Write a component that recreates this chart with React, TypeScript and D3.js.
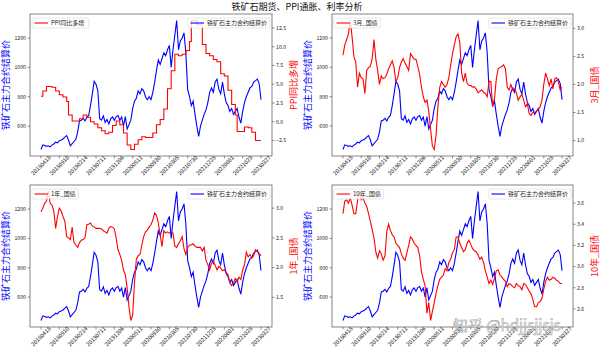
import React from 'react';
import * as d3 from 'd3';

const STEP = 10; // trading days between samples
const TICK_EVERY = 100; // trading days between x ticks
const xTickLabels = ['20180418', '20180910', '20190214', '20190711', '20191206', '20200511', '20200930', '20210305', '20210730', '20211228', '20220601', '20221028', '20230327'];

const ironOre = [440, 472, 468, 462, 466, 458, 470, 478, 490, 486,
  500, 505, 512, 525, 535, 505, 465, 480, 495, 510,
  560, 635, 640, 652, 635, 660, 672, 740, 820, 905,
  885, 840, 650, 640, 670, 625, 645, 615, 650, 662,
  640, 665, 672, 640, 662, 600, 665, 580, 610, 640,
  720, 770, 790, 840, 820, 855, 840, 800, 780, 800,
  780, 830, 900, 980, 1050, 1020, 1060, 1100, 1080, 1120,
  1150, 1000, 1120, 1220, 1320, 1120, 1180, 1200, 1235, 1100,
  850, 800, 740, 770, 680, 600, 530, 600, 640, 680,
  710, 760, 830, 860, 830, 900, 920, 850, 820, 900,
  820, 760, 740, 700, 720, 680, 700, 720, 660, 620,
  700, 760, 800, 830, 860, 870, 900, 910, 920, 890,
  780];

const ppi = [3.4, 4.1, 4.1, 4.7, 4.7, 4.7, 4.6, 4.6, 4.1, 4.1,
  3.6, 3.6, 3.3, 3.3, 2.7, 0.9, 0.9, 0.1, 0.1, 0.1,
  0.1, 0.4, 0.4, 0.9, 0.9, 0.6, 0.6, 0.0, 0.0, -0.3,
  -0.3, -0.8, -0.8, -1.2, -1.2, -1.6, -1.6, -1.4, -1.4, -0.5,
  -0.5, 0.1, 0.1, -0.4, -0.4, -1.5, -1.5, -3.1, -3.1, -3.7,
  -3.7, -3.0, -3.0, -2.4, -2.4, -2.0, -2.0, -2.1, -2.1, -2.1,
  -2.1, -1.5, -1.5, -0.4, -0.4, 0.3, 0.3, 1.7, 1.7, 4.4,
  4.4, 6.8, 6.8, 9.0, 9.0, 8.8, 8.8, 9.0, 9.0, 9.5,
  9.5, 10.7, 13.5, 13.5, 13.5, 12.9, 12.9, 12.9, 10.3, 10.3,
  9.1, 9.1, 8.8, 8.8, 8.3, 8.3, 8.0, 8.0, 6.4, 6.4,
  6.1, 6.1, 4.2, 4.2, 2.3, 2.3, 0.9, -1.3, -1.3, -1.3,
  -1.3, -0.7, -0.7, -0.8, -0.8, -1.4, -1.4, -2.5, -2.5, -2.5,
  -2.5];

const bond3m = [2.52, 2.70, 2.80, 2.90, 3.14, 2.85, 2.50, 2.40, 1.95, 2.20,
  2.12, 2.10, 1.84, 2.25, 2.30, 2.32, 2.46, 2.80, 2.45, 2.25,
  2.00, 2.15, 2.10, 2.12, 2.18, 2.28, 2.35, 2.42, 2.30, 2.05,
  2.12, 2.30, 2.40, 2.46, 2.38, 2.32, 2.25, 2.55, 2.50, 2.45,
  2.45, 2.32, 2.18, 1.95, 1.78, 1.68, 1.72, 1.52, 1.20, 0.90,
  0.84, 1.10, 1.60, 1.95, 2.05, 2.00, 1.95, 2.00, 2.12, 2.35,
  2.55, 2.70, 2.85, 2.90, 2.75, 2.20, 2.05, 2.20, 2.02, 1.98,
  1.98, 1.95, 1.96, 1.92, 1.85, 1.88, 1.90, 1.86, 1.84, 1.78,
  2.06, 2.05, 1.60, 1.75, 2.10, 2.28, 2.30, 2.32, 2.35, 2.28,
  1.95, 1.90, 2.00, 1.90, 1.92, 1.85, 1.72, 1.78, 1.82, 1.72,
  1.60, 1.66, 1.48, 1.45, 1.50, 1.50, 1.52, 1.55, 1.60, 1.72,
  2.00, 2.20, 2.10, 1.98, 2.10, 1.92, 2.10, 2.12, 2.05, 1.90,
  1.95];

const bond1y = [2.94, 3.00, 3.08, 3.12, 3.28, 3.08, 3.05, 2.95, 2.66, 2.86,
  3.00, 2.95, 2.86, 2.78, 2.52, 2.50, 2.47, 2.68, 2.42, 2.38,
  2.34, 2.42, 2.46, 2.47, 2.50, 2.72, 2.73, 2.75, 2.70, 2.68,
  2.66, 2.66, 2.66, 2.65, 2.62, 2.60, 2.58, 2.66, 2.69, 2.68,
  2.65, 2.50, 2.30, 2.22, 2.12, 1.96, 1.88, 1.65, 1.34, 1.11,
  1.20, 1.75, 2.14, 2.20, 2.22, 2.38, 2.52, 2.60, 2.63, 2.68,
  2.72, 2.80, 2.92, 2.88, 2.75, 2.55, 2.35, 2.62, 2.58, 2.60,
  2.58, 2.60, 2.58, 2.36, 2.34, 2.40, 2.45, 2.52, 2.32, 2.22,
  2.34, 2.38, 2.38, 2.40, 2.36, 2.34, 2.34, 2.34, 2.28, 2.34,
  2.12, 2.05, 1.96, 2.08, 2.10, 2.04, 1.96, 2.02, 1.99, 1.95,
  1.96, 1.92, 1.88, 1.75, 1.70, 1.74, 1.82, 1.76, 1.84, 1.80,
  1.96, 2.05, 2.26, 2.18, 2.22, 2.16, 2.20, 2.30, 2.27, 2.24,
  2.20];

const bond10y = [3.50, 3.62, 3.63, 3.60, 3.65, 3.58, 3.50, 3.50, 3.62, 3.71,
  3.63, 3.65, 3.60, 3.57, 3.50, 3.43, 3.35, 3.27, 3.14, 3.08,
  3.15, 3.12, 3.06, 3.10, 3.33, 3.40, 3.34, 3.30, 3.28, 3.22,
  3.20, 3.18, 3.12, 3.08, 3.06, 3.13, 3.20, 3.28, 3.26, 3.22,
  3.20, 3.18, 3.10, 2.95, 2.88, 2.82, 2.56, 2.66, 2.49, 2.58,
  2.66, 2.75, 2.82, 2.88, 2.90, 2.92, 2.98, 2.96, 3.04, 3.07,
  3.13, 3.16, 3.28, 3.28, 3.22, 3.18, 3.14, 3.16, 3.22, 3.25,
  3.21, 3.17, 3.15, 3.14, 3.11, 3.07, 3.09, 3.04, 2.96, 2.90,
  2.84, 2.87, 2.83, 2.89, 2.96, 2.97, 2.92, 2.90, 2.88, 2.86,
  2.81, 2.84, 2.83, 2.81, 2.80, 2.84, 2.82, 2.81, 2.78, 2.84,
  2.83, 2.80, 2.77, 2.74, 2.69, 2.62, 2.62, 2.66, 2.67, 2.70,
  2.79, 2.86, 2.90, 2.87, 2.88, 2.90, 2.89, 2.87, 2.86, 2.84,
  2.84];

const leftTicks = [600, 800, 1000, 1200];
const ppiTicks = [-2.5, 0, 2.5, 5, 7.5, 10, 12.5];
const bond3mTicks = [1.0, 1.5, 2.0, 2.5, 3.0];
const bond1yTicks = [1.5, 2.0, 2.5, 3.0];
const bond10yTicks = [2.6, 2.8, 3.0, 3.2, 3.4, 3.6];

const LEFT_NAME = '铁矿石主力合约结算价';
const TITLE = '铁矿石期货、PPI通胀、利率分析';
const WATERMARK = '知乎 @hdjjsjjsjs';

const CJK = '"Noto Sans CJK SC", "DejaVu Sans", sans-serif';
const BLUE = '#0000ff';
const RED = '#ff0000';

function textW(s: string, fs: number) {
  let w = 0;
  for (const ch of s) {
    const c = ch.charCodeAt(0);
    if (c > 0x2e80) w += 1;
    else if (/[0-9]/.test(ch)) w += 0.55;
    else if (/[A-Z]/.test(ch)) w += 0.6;
    else w += 0.5;
  }
  return w * fs;
}

function padDomain(vals: number[]): [number, number] {
  const [a, b] = d3.extent(vals) as [number, number];
  const r = b - a;
  return [a - 0.05 * r, b + 0.05 * r];
}

type PanelProps = {
  x0: number; x1: number; y0: number; y1: number;
  right: number[]; rightName: string; rightTicks: number[]; step?: boolean;
};

function Panel({ x0, x1, y0, y1, right, rightName, rightTicks, step }: PanelProps) {
  const n = ironOre.length;
  const span = (n - 1) * STEP;
  const x = d3.scaleLinear().domain([-0.05 * span, span * 1.05]).range([x0, x1]);
  const yL = d3.scaleLinear().domain(padDomain(ironOre)).range([y1, y0]);
  const yR = d3.scaleLinear().domain(padDomain(right)).range([y1, y0]);
  const lineL = d3.line<number>().x((_, i) => x(i * STEP)).y((d) => yL(d));
  const lineR = d3.line<number>().x((_, i) => x(i * STEP)).y((d) => yR(d));
  if (step) lineR.curve(d3.curveStepAfter);
  const tfs = 5.2;
  const xfs = 5.6;
  const lfs = 6;
  const cy = (y0 + y1) / 2;
  const redLegW = 19 + textW(rightName, lfs) + 3;
  const blueLegW = 19 + textW(LEFT_NAME, lfs) + 3;
  const fmtR = d3.format('.1f');
  return (
    <g>
      <rect x={x0} y={y0} width={x1 - x0} height={y1 - y0} fill="#fff" />
      <path d={lineL(ironOre) || ''} fill="none" stroke={BLUE} strokeWidth={1.1} />
      <path d={lineR(right) || ''} fill="none" stroke={RED} strokeWidth={1.1} />
      <rect x={x0} y={y0} width={x1 - x0} height={y1 - y0} fill="none" stroke="#666" strokeWidth={0.8} />
      {leftTicks.map((t) => (
        <g key={'l' + t}>
          <line x1={x0 - 2.5} x2={x0} y1={yL(t)} y2={yL(t)} stroke="#444" strokeWidth={0.6} />
          <text x={x0 - 4} y={yL(t)} dy="0.35em" textAnchor="end" fontSize={tfs} fontFamily={CJK} fill="#222">{t}</text>
        </g>
      ))}
      {rightTicks.map((t) => (
        <g key={'r' + t}>
          <line x1={x1} x2={x1 + 2.5} y1={yR(t)} y2={yR(t)} stroke="#444" strokeWidth={0.6} />
          <text x={x1 + 4} y={yR(t)} dy="0.35em" textAnchor="start" fontSize={tfs} fontFamily={CJK} fill="#222">{fmtR(t)}</text>
        </g>
      ))}
      {xTickLabels.map((lab, k) => {
        const tx = x(k * TICK_EVERY);
        const ty = y1 + 9.5;
        return (
          <g key={'x' + lab}>
            <line x1={tx} x2={tx} y1={y1} y2={y1 + 2.5} stroke="#444" strokeWidth={0.6} />
            <text transform={`translate(${tx},${ty}) rotate(-45)`} textAnchor="middle" dy="0.35em" fontSize={xfs} fontFamily={CJK} fill="#222">{lab}</text>
          </g>
        );
      })}
      <text transform={`translate(${x0 - 24},${cy}) rotate(-90)`} textAnchor="middle" dy="0.35em" fontSize={9} fontFamily={CJK} fill={BLUE}>{LEFT_NAME}</text>
      <text transform={`translate(${x1 + 22},${cy}) rotate(-90)`} textAnchor="middle" dy="0.35em" fontSize={9} fontFamily={CJK} fill={RED}>{rightName}</text>
      {/* blue legend, upper right */}
      <g transform={`translate(${x1 - 2 - blueLegW},${y0 + 4})`}>
        <rect width={blueLegW} height={10} rx={1} fill="#fff" fillOpacity={0.8} stroke="#ccc" strokeWidth={0.5} />
        <line x1={2.5} x2={16} y1={5} y2={5} stroke={BLUE} strokeWidth={1.1} />
        <text x={19} y={5} dy="0.35em" fontSize={lfs} fontFamily={CJK} fill="#222">{LEFT_NAME}</text>
      </g>
      {/* red legend, upper left */}
      <g transform={`translate(${x0 + 2},${y0 + 4})`}>
        <rect width={redLegW} height={10} rx={1} fill="#fff" fillOpacity={0.8} stroke="#ccc" strokeWidth={0.5} />
        <line x1={2.5} x2={16} y1={5} y2={5} stroke={RED} strokeWidth={1.1} />
        <text x={19} y={5} dy="0.35em" fontSize={lfs} fontFamily={CJK} fill="#222">{rightName}</text>
      </g>
    </g>
  );
}

export default function App() {
  return (
    <svg width={600} height={354} style={{ position: 'absolute', left: 0, top: 0, background: '#fff' }}>
      <rect width={600} height={354} fill="#fff" />
      <text x={297} y={6.5} dy="0.35em" textAnchor="middle" fontSize={9} fontFamily={CJK} fill="#111">{TITLE}</text>
      <Panel x0={30} x1={272} y0={14} y1={156} right={ppi} rightName="PPI同比多增" rightTicks={ppiTicks} step />
      <Panel x0={332} x1={573} y0={14} y1={156} right={bond3m} rightName="3月_国债" rightTicks={bond3mTicks} />
      <Panel x0={30} x1={272} y0={185} y1={327} right={bond1y} rightName="1年_国债" rightTicks={bond1yTicks} />
      <Panel x0={332} x1={573} y0={185} y1={327} right={bond10y} rightName="10年_国债" rightTicks={bond10yTicks} />
      <text x={453} y={331} fontSize={15} fontFamily={CJK} fill="#fff" stroke="#999" strokeWidth={0.6} opacity={0.85}>{WATERMARK}</text>
    </svg>
  );
}
